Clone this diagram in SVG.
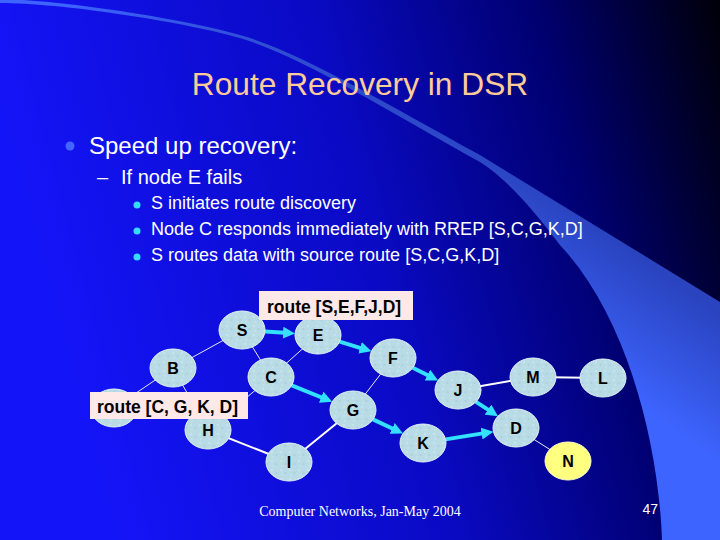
<svg xmlns="http://www.w3.org/2000/svg" width="720" height="540" viewBox="0 0 720 540">
  <defs>
    <linearGradient id="bg" x1="0" y1="0.2" x2="1" y2="0">
      <stop offset="0" stop-color="#1414f8"/>
      <stop offset="0.45" stop-color="#0a0ac4"/>
      <stop offset="0.75" stop-color="#000070"/>
      <stop offset="1" stop-color="#000008"/>
    </linearGradient>
    <linearGradient id="sw" gradientUnits="userSpaceOnUse" x1="700" y1="300" x2="630" y2="400">
      <stop offset="0" stop-color="#2a44c0"/>
      <stop offset="1" stop-color="#3d64ff"/>
    </linearGradient>
    <pattern id="tex" width="9" height="9" patternUnits="userSpaceOnUse">
      <rect width="9" height="9" fill="#b8dbe5"/>
      <circle cx="2" cy="2" r="1.3" fill="#c6e3eb"/>
      <circle cx="6.5" cy="5" r="1.1" fill="#abd1dc"/>
      <circle cx="3" cy="7" r="1" fill="#c4e2ea"/>
    </pattern>
    <marker id="ah" viewBox="0 0 10 10" refX="5" refY="5" markerWidth="3" markerHeight="3" orient="auto">
      <path d="M0,0 L10,5 L0,10 Z" fill="#33e0ff"/>
    </marker>
  </defs>
  <style>
    .node { fill: url(#tex); stroke: #e4f4f8; stroke-width: 1; }
    .nodeN { fill: #ffff80; stroke: #ffffc8; stroke-width: 1; }
    .lbl { font-family: "Liberation Sans", Arial, sans-serif; font-weight: bold; font-size: 16px; fill: #000; text-anchor: middle; }
    .edge { stroke: #e6e8ff; stroke-width: 1; fill: none; }
    .edge2 { stroke: #ffffff; stroke-width: 2; fill: none; }
    .arr { stroke: #33e0ff; stroke-width: 4; fill: none; marker-end: url(#ah); }
    .box { fill: #ffe8e8; }
    .boxt { font-family: "Liberation Sans", Arial, sans-serif; font-weight: bold; font-size: 17.5px; fill: #000; }
    .txt { font-family: "Liberation Sans", Arial, sans-serif; fill: #ffffff; }
  </style>

  <rect width="720" height="540" fill="url(#bg)"/>
  <path d="M0,-1 C60,0 180,18 240,35 C300,52 380,100 480,155 L720,302 L720,540 L662,540 C659,450 630,320 560,245 C530,205 505,178 480,162 C380,106 300,56 240,38 C180,21 60,3 0,3 Z" fill="url(#sw)"/>

  <text x="360" y="95" font-family="Liberation Sans, Arial, sans-serif" font-size="31.7" fill="#ffcc99" text-anchor="middle">Route Recovery in DSR</text>

  <circle cx="70" cy="146" r="4.5" fill="#4466ff"/>
  <text class="txt" x="89" y="154" font-size="24">Speed up recovery:</text>
  <text class="txt" x="97" y="184" font-size="20">–</text>
  <text class="txt" x="121" y="184" font-size="20">If node E fails</text>
  <circle cx="137" cy="205" r="3.5" fill="#33ddff"/>
  <circle cx="137" cy="231" r="3.5" fill="#33ddff"/>
  <circle cx="137" cy="257" r="3.5" fill="#33ddff"/>
  <text class="txt" x="151" y="209" font-size="18">S initiates route discovery</text>
  <text class="txt" x="151" y="235" font-size="18">Node C responds immediately with RREP [S,C,G,K,D]</text>
  <text class="txt" x="151" y="261" font-size="18">S routes data with source route [S,C,G,K,D]</text>

  <g id="connectors">
    <line class="edge" x1="242" y1="330" x2="173" y2="368"/>
    <line class="edge" x1="242" y1="330" x2="271" y2="377"/>
    <line class="edge" x1="318" y1="335" x2="271" y2="377"/>
    <line class="edge" x1="173" y1="368" x2="114" y2="408"/>
    <line class="edge" x1="173" y1="368" x2="208" y2="430"/>
    <line class="edge" x1="271" y1="377" x2="208" y2="430"/>
    <line class="edge" x1="393" y1="358" x2="353" y2="410"/>
    <line class="edge2" x1="353" y1="410" x2="289" y2="462"/>
    <line class="edge2" x1="208" y1="430" x2="289" y2="462"/>
    <line class="edge2" x1="458" y1="390" x2="533" y2="377"/>
    <line class="edge2" x1="533" y1="377" x2="603" y2="378"/>
    <line class="edge" x1="516" y1="428" x2="568" y2="461"/>
    <line class="arr" x1="265" y1="331.5" x2="289" y2="333.1"/>
    <line class="arr" x1="339.6" y1="341.6" x2="365.7" y2="349.6"/>
    <line class="arr" x1="412.8" y1="367.7" x2="432.8" y2="377.7"/>
    <line class="arr" x1="476" y1="401.8" x2="493" y2="412.9"/>
    <line class="arr" x1="291.7" y1="385.3" x2="326.7" y2="399.5"/>
    <line class="arr" x1="373" y1="419.4" x2="397.6" y2="431"/>
    <line class="arr" x1="445.6" y1="439.4" x2="487.5" y2="432.6"/>
  </g>

  <g id="node-A"><ellipse class="node" cx="114" cy="408" rx="23" ry="19"/></g>
  <g id="node-S"><ellipse class="node" cx="242" cy="330" rx="23" ry="19"/><text class="lbl" x="242" y="336">S</text></g>
  <g id="node-E"><ellipse class="node" cx="318" cy="335" rx="23" ry="19"/><text class="lbl" x="318" y="341">E</text></g>
  <g id="node-B"><ellipse class="node" cx="173" cy="368" rx="23" ry="19"/><text class="lbl" x="173" y="374">B</text></g>
  <g id="node-C"><ellipse class="node" cx="271" cy="377" rx="23" ry="19"/><text class="lbl" x="271" y="383">C</text></g>
  <g id="node-F"><ellipse class="node" cx="393" cy="358" rx="23" ry="19"/><text class="lbl" x="393" y="364">F</text></g>
  <g id="node-G"><ellipse class="node" cx="353" cy="410" rx="23" ry="19"/><text class="lbl" x="353" y="416">G</text></g>
  <g id="node-H"><ellipse class="node" cx="208" cy="430" rx="23" ry="19"/><text class="lbl" x="208" y="436">H</text></g>
  <g id="node-I"><ellipse class="node" cx="289" cy="462" rx="23" ry="19"/><text class="lbl" x="289" y="468">I</text></g>
  <g id="node-J"><ellipse class="node" cx="458" cy="390" rx="23" ry="19"/><text class="lbl" x="458" y="396">J</text></g>
  <g id="node-M"><ellipse class="node" cx="533" cy="377" rx="23" ry="19"/><text class="lbl" x="533" y="383">M</text></g>
  <g id="node-L"><ellipse class="node" cx="603" cy="378" rx="23" ry="19"/><text class="lbl" x="603" y="384">L</text></g>
  <g id="node-K"><ellipse class="node" cx="423" cy="443" rx="23" ry="19"/><text class="lbl" x="423" y="449">K</text></g>
  <g id="node-D"><ellipse class="node" cx="516" cy="428" rx="23" ry="19"/><text class="lbl" x="516" y="434">D</text></g>
  <g id="node-N"><ellipse class="nodeN" cx="568" cy="461" rx="23" ry="19"/><text class="lbl" x="568" y="467">N</text></g>

  <g id="label-route1"><rect class="box" x="259" y="291" width="154" height="29"/><text class="boxt" x="267" y="313">route [S,E,F,J,D]</text></g>
  <g id="label-route2"><rect class="box" x="90" y="392" width="158" height="27"/><text class="boxt" x="97" y="413">route [C, G, K, D]</text></g>

  <text x="360" y="516" font-family="Liberation Serif, Times New Roman, serif" font-size="14" fill="#ffffff" text-anchor="middle">Computer Networks, Jan-May 2004</text>
  <text x="658" y="514" font-family="Liberation Sans, Arial, sans-serif" font-size="14" fill="#ffffff" text-anchor="end">47</text>
</svg>
